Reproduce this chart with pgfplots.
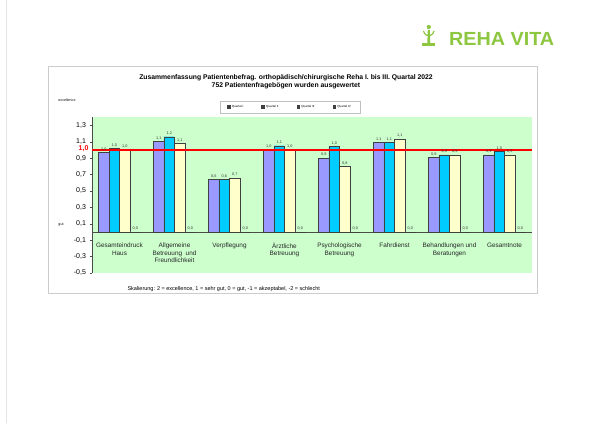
\documentclass[border=0pt]{standalone}
\usepackage{pgfplots}
\pgfplotsset{compat=1.18}
\usepackage{fontspec}
\setmainfont{Liberation Sans}
\definecolor{bgreen}{RGB}{204,255,204}
\definecolor{qone}{RGB}{153,153,255}
\definecolor{qtwo}{RGB}{0,204,255}
\definecolor{qthree}{RGB}{255,255,204}
\definecolor{qfour}{RGB}{204,255,255}
\definecolor{logogreen}{RGB}{141,198,63}
\definecolor{refline}{RGB}{255,0,0}
\begin{document}
\begin{tikzpicture}[x=1pt,y=1pt]
\useasboundingbox[fill=white] (0,0) rectangle (600,423);
\draw[gray!20] (6,0) -- (6,423);
\draw[gray!40] (48,130) rectangle (537,357);
% logo
\fill[logogreen] (422,377) rectangle (435,379.5);
\fill[logogreen] (427.3,379.5) -- (430.3,379.5) -- (429.8,393) -- (427.8,393) -- cycle;
\draw[logogreen, line width=1.2pt] (423.5,392) .. controls (425.5,385.5) and (432,385.5) .. (434,392);
\fill[logogreen] (428.8,396) circle (2.1pt);
\node[anchor=west, text=logogreen, font=\bfseries\fontsize{19}{19}\selectfont, xscale=1.04, inner sep=0] at (449,384) {REHA VITA};
% titles
\node[font=\bfseries\fontsize{6.8}{8}\selectfont] at (286,345.5) {Zusammenfassung Patientenbefrag. orthopädisch/chirurgische Reha I. bis III. Quartal 2022};
\node[font=\bfseries\fontsize{6.8}{8}\selectfont] at (286,337.5) {752 Patientenfragebögen wurden ausgewertet};
\node[font=\fontsize{3.6}{4}\selectfont] at (67,323) {excellence};
\node[font=\fontsize{3.6}{4}\selectfont] at (61,198) {gut};
\node[anchor=west, font=\fontsize{5.5}{6}\selectfont] at (124,134) {Skalierung: 2 = excellence, 1 = sehr gut, 0 = gut, -1 = akzeptabel, -2 = schlecht};
\begin{axis}[
  at={(92pt,150pt)}, anchor=south west, scale only axis,
  width=440pt, height=156pt,
  xmin=-0.5, xmax=7.5, ymin=-0.5, ymax=1.4,
  axis background/.style={fill=bgreen},
  axis y line*=left, axis x line*=middle,
  axis line style={black!70, -},
  xtick={0,1,2,3,4,5,6,7},
  xticklabels={{Gesamteindruck\\Haus},{Allgemeine\\Betreuung\ \ und\\Freundlichkeit},{Verpflegung},{Ärztliche\\Betreuung},{Psychologische\\Betreuung},{Fahrdienst},{Behandlungen und\\Beratungen},{Gesamtnote}},
  x tick label style={font=\fontsize{6.4}{7.4}\selectfont, align=center, anchor=north, yshift=-5pt, text=black!85},
  x tick style={draw=none},
  ytick={-0.5,-0.3,-0.1,0.1,0.3,0.5,0.7,0.9,1.1,1.3},
  y tick label style={font=\fontsize{7}{8}\selectfont, /pgf/number format/.cd, fixed, fixed zerofill, precision=1, use comma, assume math mode=true},
  y tick style={black!70},
  tick align=outside, major tick length=2.5pt,
  extra y ticks={1},
  extra y tick labels={\textcolor{refline}{\textbf{1,0}}},
  extra y tick style={grid=none, major tick length=0pt, tick label style={yshift=1pt}},
  clip=false,
  legend columns=4,
  legend style={at={(0.45,1.064)}, anchor=center, draw=gray!50, font=\fontsize{3}{3.6}\selectfont, inner xsep=7pt, inner ysep=2pt, /tikz/every even column/.append style={column sep=16pt}},
  legend image code/.code={\fill[black!75] (0pt,-1pt) rectangle (2.4pt,1.4pt);},
  every node near coord/.append style={font=\fontsize{3.8}{4}\selectfont, text=black!80, inner sep=1.5pt},
]
\addplot[ybar, bar width=10.5pt, bar shift=-15.75pt, fill=qone, draw=black!75, line width=0.4pt,
  nodes near coords={\pgfmathprintnumber[fixed,fixed zerofill,precision=1,use comma,assume math mode=true]{\pgfplotspointmeta}},
  every node near coord/.append style={xshift=-15.75pt}]
  coordinates {(0,0.97) (1,1.10) (2,0.64) (3,1.00) (4,0.90) (5,1.09) (6,0.91) (7,0.94)};
\addplot[ybar, bar width=10.5pt, bar shift=-5.25pt, fill=qtwo, draw=black!75, line width=0.4pt,
  nodes near coords={\pgfmathprintnumber[fixed,fixed zerofill,precision=1,use comma,assume math mode=true]{\pgfplotspointmeta}},
  every node near coord/.append style={xshift=-5.25pt}]
  coordinates {(0,1.02) (1,1.16) (2,0.64) (3,1.05) (4,1.04) (5,1.09) (6,0.94) (7,0.98)};
\addplot[ybar, bar width=10.5pt, bar shift=5.25pt, fill=qthree, draw=black!75, line width=0.4pt,
  nodes near coords={\pgfmathprintnumber[fixed,fixed zerofill,precision=1,use comma,assume math mode=true]{\pgfplotspointmeta}},
  every node near coord/.append style={xshift=5.25pt}]
  coordinates {(0,1.00) (1,1.08) (2,0.66) (3,1.00) (4,0.80) (5,1.13) (6,0.94) (7,0.94)};
\addplot[ybar, bar width=10.5pt, bar shift=15.75pt, fill=qfour, draw=black!75, line width=0.4pt,
  nodes near coords={\pgfmathprintnumber[fixed,fixed zerofill,precision=1,use comma,assume math mode=true]{\pgfplotspointmeta}},
  every node near coord/.append style={xshift=15.75pt}]
  coordinates {(0,0) (1,0) (2,0) (3,0) (4,0) (5,0) (6,0) (7,0)};
\legend{Quartal I, Quartal II, Quartal III, Quartal IV}
\addplot[draw=refline, color=refline, line width=1.4pt, mark=none, sharp plot, forget plot] coordinates {(-0.5,1) (7.5,1)};
\end{axis}
\end{tikzpicture}
\end{document}
